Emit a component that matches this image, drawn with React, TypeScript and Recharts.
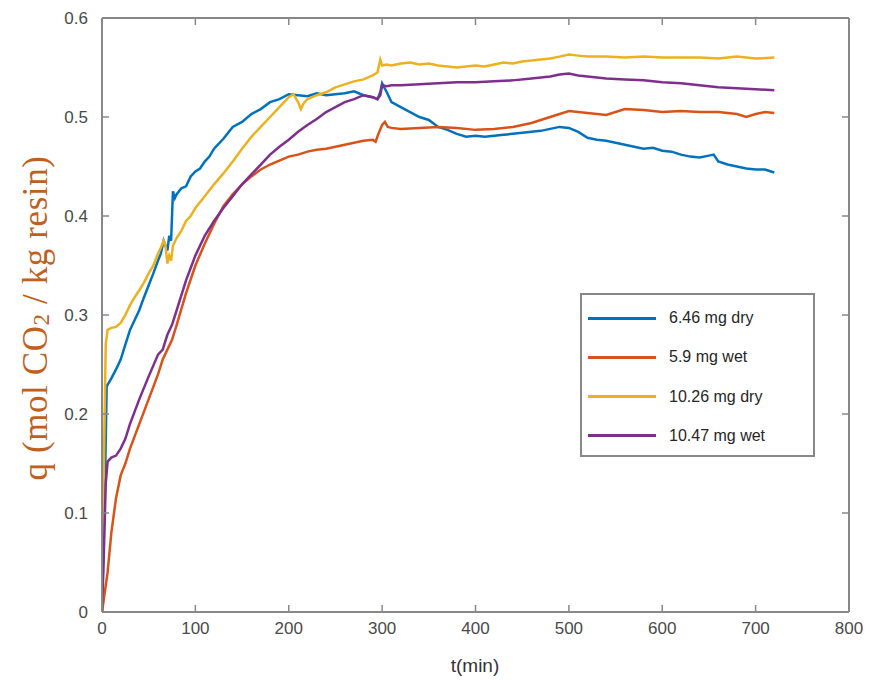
import React from "react";
import { LineChart, Line, XAxis, YAxis, Legend } from "recharts";

// uptake curves, q (mol CO2 / kg resin) vs t (min)
const T_DRY_646 = [0, 3, 5, 10, 15, 20, 25, 30, 35, 40, 45, 50, 55, 60, 63, 66, 68, 70, 72, 74, 76, 78, 80, 85, 90, 95, 100, 105, 110, 115, 120, 130, 140, 150, 160, 170, 180, 190, 200, 210, 220, 230, 240, 250, 260, 270, 280, 290, 295, 298, 300, 305, 310, 320, 330, 340, 350, 360, 370, 380, 390, 400, 410, 420, 430, 440, 450, 460, 470, 480, 490, 500, 510, 520, 530, 540, 550, 560, 570, 580, 590, 600, 610, 620, 630, 640, 650, 655, 660, 670, 680, 690, 700, 710, 720];
const Q_DRY_646 = [0, 0.12, 0.228, 0.236, 0.245, 0.255, 0.27, 0.285, 0.295, 0.305, 0.318, 0.33, 0.342, 0.355, 0.362, 0.375, 0.37, 0.365, 0.38, 0.375, 0.425, 0.418, 0.422, 0.428, 0.43, 0.44, 0.445, 0.448, 0.455, 0.46, 0.468, 0.478, 0.49, 0.495, 0.503, 0.508, 0.515, 0.518, 0.523, 0.522, 0.521, 0.524, 0.522, 0.523, 0.524, 0.526, 0.522, 0.52, 0.518, 0.525, 0.534, 0.525, 0.515, 0.51, 0.505, 0.5, 0.497, 0.49, 0.487, 0.483, 0.48, 0.481, 0.48, 0.481, 0.482, 0.483, 0.484, 0.485, 0.486, 0.488, 0.49, 0.489, 0.485, 0.479, 0.477, 0.476, 0.474, 0.472, 0.47, 0.468, 0.469, 0.466, 0.465, 0.462, 0.46, 0.459, 0.461, 0.462, 0.455, 0.452, 0.45, 0.448, 0.447, 0.447, 0.444];

const T_WET_59 = [0, 3, 6, 10, 15, 20, 25, 30, 40, 50, 60, 65, 70, 75, 80, 90, 100, 110, 120, 130, 140, 150, 160, 170, 180, 190, 200, 210, 220, 230, 240, 250, 260, 270, 280, 290, 293, 296, 300, 303, 306, 310, 320, 340, 360, 380, 400, 420, 440, 460, 480, 500, 520, 540, 560, 580, 600, 620, 640, 660, 680, 690, 700, 710, 720];
const Q_WET_59 = [0, 0.02, 0.04, 0.08, 0.115, 0.138, 0.15, 0.165, 0.19, 0.215, 0.24, 0.255, 0.265, 0.275, 0.29, 0.322, 0.35, 0.372, 0.392, 0.41, 0.422, 0.432, 0.44, 0.447, 0.452, 0.456, 0.46, 0.462, 0.465, 0.467, 0.468, 0.47, 0.472, 0.474, 0.476, 0.477, 0.475, 0.483, 0.492, 0.495, 0.49, 0.489, 0.488, 0.489, 0.49, 0.489, 0.487, 0.488, 0.49, 0.494, 0.5, 0.506, 0.504, 0.502, 0.508, 0.507, 0.505, 0.506, 0.505, 0.505, 0.503, 0.5, 0.503, 0.505, 0.504];

const T_DRY_1026 = [0, 2, 4, 6, 10, 15, 20, 25, 30, 35, 40, 45, 50, 55, 60, 63, 66, 68, 70, 72, 74, 76, 80, 85, 90, 95, 100, 110, 120, 130, 140, 150, 160, 170, 180, 190, 200, 205, 210, 213, 216, 220, 230, 240, 250, 260, 270, 280, 290, 295, 298, 300, 305, 310, 320, 330, 340, 350, 360, 370, 380, 390, 400, 410, 420, 430, 440, 450, 460, 470, 480, 490, 500, 510, 520, 540, 560, 580, 600, 620, 640, 660, 680, 700, 720];
const Q_DRY_1026 = [0, 0.15, 0.27, 0.285, 0.287, 0.288, 0.292, 0.3, 0.31, 0.318, 0.325, 0.333, 0.342, 0.35, 0.362, 0.368, 0.375, 0.37, 0.352, 0.36, 0.355, 0.37, 0.378, 0.385, 0.395, 0.4, 0.408, 0.42, 0.432, 0.443, 0.455, 0.468, 0.48, 0.49, 0.5, 0.51, 0.52, 0.523, 0.515, 0.508, 0.514, 0.518, 0.522, 0.525, 0.53, 0.533, 0.536, 0.538, 0.542, 0.545, 0.558, 0.552, 0.553, 0.552, 0.554, 0.555, 0.553, 0.554, 0.552, 0.551, 0.55, 0.551, 0.552, 0.551, 0.553, 0.555, 0.554, 0.556, 0.557, 0.558, 0.559, 0.561, 0.563, 0.562, 0.561, 0.561, 0.56, 0.561, 0.56, 0.56, 0.56, 0.559, 0.561, 0.559, 0.56];

const T_WET_1047 = [0, 2, 4, 6, 10, 15, 20, 25, 30, 40, 50, 60, 65, 70, 75, 80, 90, 100, 110, 120, 130, 140, 150, 160, 170, 180, 190, 200, 210, 220, 230, 240, 250, 260, 270, 280, 290, 295, 298, 300, 305, 310, 320, 340, 360, 380, 400, 420, 440, 460, 480, 490, 500, 510, 520, 540, 560, 580, 600, 620, 640, 660, 680, 700, 720];
const Q_WET_1047 = [0, 0.06, 0.13, 0.152, 0.156, 0.158, 0.165, 0.175, 0.19, 0.215, 0.238, 0.26, 0.265, 0.28, 0.29, 0.305, 0.335, 0.36, 0.38, 0.395, 0.408, 0.42, 0.432, 0.442, 0.452, 0.462, 0.47, 0.477, 0.485, 0.492, 0.498, 0.505, 0.51, 0.515, 0.518, 0.522, 0.52, 0.518, 0.522, 0.532, 0.531, 0.532, 0.532, 0.533, 0.534, 0.535, 0.535, 0.536, 0.537, 0.539, 0.541, 0.543, 0.544, 0.542, 0.541, 0.539, 0.538, 0.537, 0.535, 0.534, 0.532, 0.53, 0.529, 0.528, 0.527];

const X_TICKS = [0, 100, 200, 300, 400, 500, 600, 700, 800];
const Y_TICKS = [0, 0.1, 0.2, 0.3, 0.4, 0.5, 0.6];

const zip = (ts: number[], qs: number[]) => ts.map((t, i) => ({ t, q: qs[i] }));

const SERIES = [
  { name: "6.46 mg dry", color: "#0072BD", data: zip(T_DRY_646, Q_DRY_646) },
  { name: "5.9 mg wet", color: "#D95319", data: zip(T_WET_59, Q_WET_59) },
  { name: "10.26 mg dry", color: "#EDB120", data: zip(T_DRY_1026, Q_DRY_1026) },
  { name: "10.47 mg wet", color: "#7E2F8E", data: zip(T_WET_1047, Q_WET_1047) },
];

const AXIS = "#888888";
const SANS = "Liberation Sans, Arial, sans-serif";
const TICK_LEN = 7;

// matlab-style ticks: short marks pointing into the plot box
const BottomTick = (p: any) => (
  <g>
    <line x1={p.x} y1={p.y} x2={p.x} y2={p.y - TICK_LEN} stroke={AXIS} strokeWidth={1.5} />
    <text x={p.x} y={p.y + 10} dy="0.71em" textAnchor="middle" fill="#4a4a4a" fontSize={17} fontFamily={SANS}>
      {p.payload.value}
    </text>
  </g>
);
const LeftTick = (p: any) => (
  <g>
    <line x1={p.x} y1={p.y} x2={p.x + TICK_LEN} y2={p.y} stroke={AXIS} strokeWidth={1.5} />
    <text x={p.x - 14} y={p.y} dy="0.355em" textAnchor="end" fill="#4a4a4a" fontSize={17} fontFamily={SANS}>
      {p.payload.value === 0 ? "0" : p.payload.value.toFixed(1)}
    </text>
  </g>
);
const TopTick = (p: any) => <line x1={p.x} y1={p.y} x2={p.x} y2={p.y + TICK_LEN} stroke={AXIS} strokeWidth={1.5} />;
const RightTick = (p: any) => <line x1={p.x} y1={p.y} x2={p.x - TICK_LEN} y2={p.y} stroke={AXIS} strokeWidth={1.5} />;

const YLabel = () => (
  <text
    x={35}
    y={318}
    transform="rotate(-90 35 318)"
    textAnchor="middle"
    dominantBaseline="central"
    fill="#c0601c"
    fontSize={35}
    letterSpacing={0.6}
    fontFamily="Liberation Serif, Times New Roman, serif"
  >
    q (mol CO<tspan dy={6} fontSize={23}>2</tspan>
    <tspan dy={-6}> / kg resin)</tspan>
  </text>
);

const XLabel = () => (
  <text x={475} y={665} textAnchor="middle" dominantBaseline="central" fill="#333" fontSize={19} fontFamily={SANS}>
    t(min)
  </text>
);

const LegendBox = () => (
  <div
    style={{
      width: 235,
      height: 164,
      boxSizing: "border-box",
      border: `2px solid ${AXIS}`,
      background: "#fff",
      position: "relative",
      fontFamily: SANS,
      fontSize: 16,
      color: "#262626",
    }}
  >
    {SERIES.map((s, i) => (
      <div key={s.name} style={{ position: "absolute", left: 6, top: 23 + i * 39.3 - 12, height: 24, display: "flex", alignItems: "center" }}>
        <div style={{ width: 68, height: 3, background: s.color }} />
        <span style={{ marginLeft: 13 }}>{s.name}</span>
      </div>
    ))}
  </div>
);

export default function App() {
  return (
    <div style={{ position: "absolute", left: 0, top: 0, background: "#fff" }}>
      <LineChart width={874} height={681} data={SERIES[0].data} margin={{ top: 17, right: 24, bottom: 0, left: 0 }}>
        <XAxis
          dataKey="t"
          type="number"
          domain={[0, 800]}
          allowDataOverflow
          ticks={X_TICKS}
          height={69}
          stroke={AXIS}
          strokeWidth={2}
          tickSize={0}
          tickMargin={0}
          tickLine={false}
          tick={<BottomTick />}
          label={<XLabel />}
        />
        <XAxis
          xAxisId="top"
          dataKey="t"
          orientation="top"
          type="number"
          domain={[0, 800]}
          allowDataOverflow
          ticks={X_TICKS}
          height={1}
          stroke={AXIS}
          strokeWidth={2}
          tickSize={0}
          tickMargin={0}
          tickLine={false}
          tick={<TopTick />}
        />
        <YAxis
          type="number"
          domain={[0, 0.6]}
          allowDataOverflow
          ticks={Y_TICKS}
          width={102}
          stroke={AXIS}
          strokeWidth={2}
          tickSize={0}
          tickMargin={0}
          tickLine={false}
          tick={<LeftTick />}
          label={<YLabel />}
        />
        <YAxis
          yAxisId="right"
          orientation="right"
          type="number"
          domain={[0, 0.6]}
          allowDataOverflow
          ticks={Y_TICKS}
          width={1}
          stroke={AXIS}
          strokeWidth={2}
          tickSize={0}
          tickMargin={0}
          tickLine={false}
          tick={<RightTick />}
        />
        {SERIES.map((s) => (
          <Line
            key={s.name}
            data={s.data}
            dataKey="q"
            name={s.name}
            type="linear"
            stroke={s.color}
            strokeWidth={2.5}
            dot={false}
            isAnimationActive={false}
          />
        ))}
        {/* invisible copy so the top/right box axes get a scale */}
        <Line
          xAxisId="top"
          yAxisId="right"
          data={SERIES[0].data}
          dataKey="q"
          stroke="none"
          dot={false}
          activeDot={false}
          legendType="none"
          isAnimationActive={false}
        />
        <Legend
          layout="horizontal"
          verticalAlign="middle"
          align="center"
          wrapperStyle={{ left: 580, top: 293, width: 235, height: 164 }}
          content={() => <LegendBox />}
        />
      </LineChart>
    </div>
  );
}
